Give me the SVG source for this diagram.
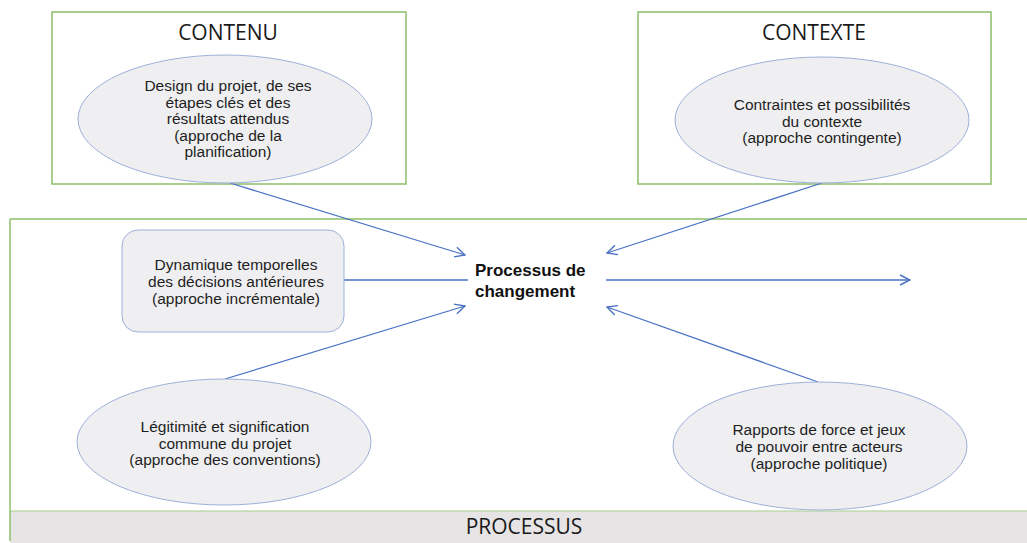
<svg xmlns="http://www.w3.org/2000/svg" width="1027" height="543" viewBox="0 0 1027 543">
  <style>
    .frame { fill: none; stroke: #8cbf6a; stroke-width: 1.5; }
    .bubble { fill: #efeff1; stroke: #9db0da; stroke-width: 1; }
    .head { font-family: "Open Sans", "Liberation Sans", sans-serif; font-size: 21px; fill: #1a1a1a; text-anchor: middle; }
    .body { font-family: "Liberation Sans", Arial, sans-serif; font-size: 15.5px; fill: #1e1e1e; text-anchor: middle; }
    .core { font-family: "Liberation Sans", Arial, sans-serif; font-size: 17px; font-weight: bold; fill: #111; }
    .link { stroke: #4a72c4; stroke-width: 1.3; fill: none; }
  </style>
  <defs>
    <marker id="open-arrow" viewBox="0 0 12 12" refX="11" refY="6" markerWidth="12" markerHeight="12" markerUnits="userSpaceOnUse" orient="auto">
      <path d="M1,1 L11,6 L1,11" fill="none" stroke="#4a72c4" stroke-width="1.4"/>
    </marker>
  </defs>

  <rect width="1027" height="543" fill="#ffffff"/>

  <!-- process frame and bottom band -->
  <g id="processus">
    <rect x="10" y="511" width="1030" height="32" fill="#e6e4e4"/>
    <line x1="10" y1="511" x2="1027" y2="511" stroke="#a8d08d" stroke-width="1.2"/>
    <line x1="10" y1="219" x2="1027" y2="219" stroke="#8cbf6a" stroke-width="1.5"/>
    <line x1="10" y1="219" x2="10" y2="541" stroke="#8cbf6a" stroke-width="1.5"/>
    <text class="head" x="524" y="534">PROCESSUS</text>
  </g>

  <!-- content frame -->
  <g id="contenu">
    <rect class="frame" x="52" y="12" width="354" height="172"/>
    <text class="head" x="228" y="40">CONTENU</text>
  </g>

  <!-- context frame -->
  <g id="contexte">
    <rect class="frame" x="638" y="12" width="353" height="172"/>
    <text class="head" x="814" y="40">CONTEXTE</text>
  </g>

  <!-- connectors -->
  <g id="connectors">
    <line class="link" x1="230" y1="183" x2="465" y2="255" marker-end="url(#open-arrow)"/>
    <line class="link" x1="822" y1="183" x2="607" y2="253" marker-end="url(#open-arrow)"/>
    <line class="link" x1="344" y1="280" x2="468" y2="280"/>
    <line class="link" x1="606" y1="280" x2="910" y2="280" marker-end="url(#open-arrow)"/>
    <line class="link" x1="225" y1="379" x2="465" y2="306" marker-end="url(#open-arrow)"/>
    <line class="link" x1="818" y1="382" x2="607" y2="307" marker-end="url(#open-arrow)"/>
  </g>

  <g id="node-design">
    <ellipse class="bubble" cx="225" cy="119" rx="147" ry="64"/>
    <text class="body" x="228" y="91">Design du projet, de ses</text>
    <text class="body" x="228" y="108">étapes clés et des</text>
    <text class="body" x="228" y="124">résultats attendus</text>
    <text class="body" x="228" y="141">(approche de la</text>
    <text class="body" x="228" y="157">planification)</text>
  </g>

  <g id="node-contraintes">
    <ellipse class="bubble" cx="822" cy="120" rx="147" ry="63"/>
    <text class="body" x="822" y="110">Contraintes et possibilités</text>
    <text class="body" x="822" y="127">du contexte</text>
    <text class="body" x="822" y="143">(approche contingente)</text>
  </g>

  <g id="node-dynamique">
    <rect class="bubble" x="122" y="230" width="222" height="102" rx="16" ry="16"/>
    <text class="body" x="236" y="270">Dynamique temporelles</text>
    <text class="body" x="236" y="287">des décisions antérieures</text>
    <text class="body" x="236" y="304">(approche incrémentale)</text>
  </g>

  <g id="node-changement">
    <text class="core" x="475" y="276">Processus de</text>
    <text class="core" x="475" y="297">changement</text>
  </g>

  <g id="node-legitimite">
    <ellipse class="bubble" cx="224" cy="442" rx="147" ry="63"/>
    <text class="body" x="225" y="432">Légitimité et signification</text>
    <text class="body" x="225" y="449">commune du projet</text>
    <text class="body" x="225" y="465">(approche des conventions)</text>
  </g>

  <g id="node-rapports">
    <ellipse class="bubble" cx="820" cy="446" rx="147" ry="64"/>
    <text class="body" x="819" y="435">Rapports de force et jeux</text>
    <text class="body" x="819" y="452">de pouvoir entre acteurs</text>
    <text class="body" x="819" y="469">(approche politique)</text>
  </g>
</svg>
